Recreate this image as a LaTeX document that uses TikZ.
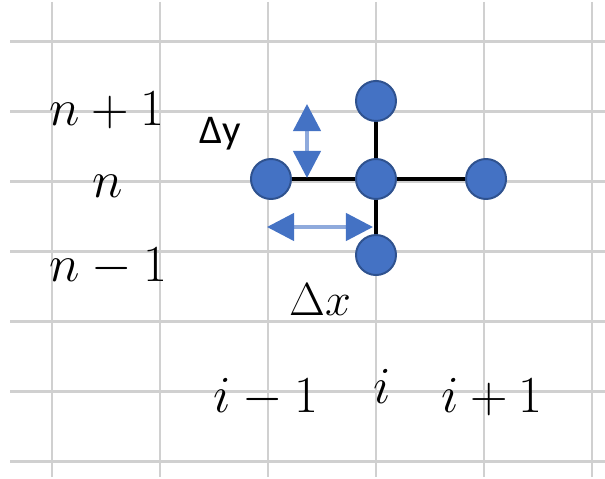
\documentclass[tikz,border=0pt]{standalone}
\usepackage{fix-cm}
\usepackage{amsmath}
\usepackage{fontspec}
\usepackage{tikz}
\usetikzlibrary{arrows.meta, positioning}
\newfontfamily\calibri{Carlito}
\definecolor{dotblue}{HTML}{4472C4}
\definecolor{dotrim}{HTML}{2F528F}
\definecolor{shaftblue}{HTML}{8FAADC}
\definecolor{gridgray}{HTML}{D0D0D0}

\begin{document}
\begin{tikzpicture}[x=0.025cm, y=-0.025cm, >={Triangle[length=0.675cm, width=0.68cm, color=dotblue]}]
        % Define styles
        \tikzstyle{stencilpt} = [draw=dotrim, fill=dotblue, circle, line width=1.4pt, minimum size=1cm, inner sep=0pt]
        \tikzstyle{gridline} = [draw=gridgray, line width=2pt]
        \tikzstyle{link} = [draw=black, line width=2.2pt]
        \tikzstyle{spacing} = [<->, draw=shaftblue, line width=2.6pt]
        \tikzstyle{lbl} = [anchor=base, inner sep=0pt, font=\fontsize{37}{40}\selectfont]

        \fill [white] (0,0) rectangle (605,479);
        \useasboundingbox (0,0) rectangle (605,479);

        % Grid
        \foreach \x in {52,160,268,376,484,592}
            \draw [gridline] (\x,2) -- (\x,477);
        \foreach \y in {41.5,111.5,181.5,251.5,321.5,391.5,461.5}
            \draw [gridline] (10,\y) -- (605,\y);

        % Nodes
        \node [stencilpt] (mid) at (376,179) {};
        \node [stencilpt, above of=mid, node distance=1.95cm] (np1) {};
        \node [stencilpt, below of=mid, node distance=1.9cm] (nm1) {};
        \node [stencilpt, left of=mid, node distance=2.625cm] (im1) {};
        \node [stencilpt, right of=mid, node distance=2.75cm] (ip1) {};

        % Edges
        \draw [link] (im1) -- (mid) -- (ip1);
        \draw [link] (np1) -- (mid) -- (nm1);

        % Spacing arrows
        \coordinate (dytop) at (307,104);
        \coordinate (dybot) at (307,178);
        \coordinate (dxl) at (267,227);
        \coordinate (dxr) at (373,227);
        \draw [spacing] (dytop) -- (dybot);
        \draw [spacing] (dxl) -- (dxr);

        % Labels
        \node [lbl] (lnp1) at (107,126) {$n+1$};
        \node [lbl] (ln) at (108,197) {$n$};
        \node [lbl] (lnm1) at (108,281) {$n-1$};
        \node [lbl, font=\calibri\fontsize{29}{32}\selectfont] (ldy) at (220,144) {Δy};
        \node [lbl, font=\fontsize{33}{36}\selectfont] (ldx) at (320,315) {$\Delta x$};
        \node [lbl] (lim1) at (266,412) {$i-1$};
        \node [lbl] (li) at (382,403) {$i$};
        \node [lbl] (lip1) at (492,412) {$i+1$};
\end{tikzpicture}
\end{document}
